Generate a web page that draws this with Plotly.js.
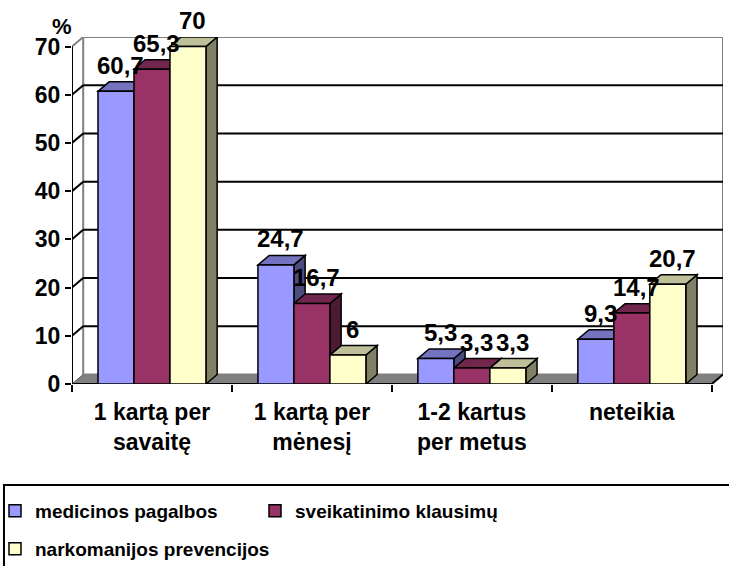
<!DOCTYPE html>
<html><head><meta charset="utf-8">
<script src="https://cdn.plot.ly/plotly-3.0.1.min.js"></script>
<style>html,body{margin:0;padding:0;background:#fff}#chart{width:729px;height:566px}</style>
</head><body><div id="chart"></div>
<script>
// ---- data ----
const categories = ['1 kartą per<br>savaitę', '1 kartą per<br>mėnesį', '1-2 kartus<br>per metus', 'neteikia'];
const seriesNames = ['medicinos pagalbos', 'sveikatinimo klausimų', 'narkomanijos prevencijos'];
const medicinos = [60.7, 24.7, 5.3, 9.3];
const sveikatinimo = [65.3, 16.7, 3.3, 14.7];
const narkomanijos = [70, 6, 3.3, 20.7];
const yTicks = [0, 10, 20, 30, 40, 50, 60, 70];

// ---- style ----
const frontCol = ['#9999FF', '#993366', '#FFFFCC'];
const topCol = ['#7373BF', '#73264D', '#BFBF99'];
const sideCol = ['#4C4C80', '#4C1A33', '#808066'];
const FONT = 'Liberation Sans, Arial, sans-serif';
const W = 0.225, DX = 0.07, DY = 1.97, YMAX = 70;
const series = [medicinos, sveikatinimo, narkomanijos];

const traces = series.map((vals, j) => ({
  type: 'bar', x: categories, y: vals, name: '<b>' + seriesNames[j] + '</b>',
  width: W, offset: -1.5 * W + j * W,
  marker: {color: frontCol[j], line: {color: '#000', width: 1.5}},
  hoverinfo: 'skip', legend: j < 2 ? 'legend' : 'legend2'
}));

const shapes = [];
const L = -0.5, R = categories.length - 0.5;
// floor
shapes.push({type: 'path', layer: 'below', xref: 'x', yref: 'y',
  path: `M${L},0 L${R},0 L${R + DX},${DY} L${L + DX},${DY} Z`,
  fillcolor: '#808080', line: {color: '#555', width: 1}});
// back wall
shapes.push({type: 'rect', layer: 'below', xref: 'x', yref: 'y',
  x0: L + DX, x1: R + DX, y0: DY, y1: YMAX + DY,
  fillcolor: 'rgba(0,0,0,0)', line: {color: '#808080', width: 2}});
// left wall top edge
shapes.push({type: 'line', layer: 'below', xref: 'x', yref: 'y',
  x0: L, y0: YMAX, x1: L + DX, y1: YMAX + DY, line: {color: '#808080', width: 2}});
// gridlines on walls
yTicks.filter(v => v > 0 && v < YMAX).forEach(v => {
  shapes.push({type: 'line', layer: 'below', xref: 'x', yref: 'y',
    x0: L + DX, x1: R + DX, y0: v + DY, y1: v + DY, line: {color: '#000', width: 2}});
  shapes.push({type: 'line', layer: 'below', xref: 'x', yref: 'y',
    x0: L, x1: L + DX, y0: v, y1: v + DY, line: {color: '#000', width: 2}});
});
// axis lines
shapes.push({type: 'line', layer: 'below', xref: 'x', yref: 'y',
  x0: L, x1: L, y0: 0, y1: YMAX, line: {color: '#000', width: 2}});
shapes.push({type: 'path', layer: 'below', xref: 'x', yref: 'y',
  path: `M${L},0 L${R},0 L${R + DX},${DY}`, line: {color: '#000', width: 2}});
// 3D faces of bars
categories.forEach((c, i) => {
  series.forEach((vals, j) => {
    const v = vals[i];
    const l = i - 1.5 * W + j * W, r = l + W;
    shapes.push({type: 'path', layer: 'below', xref: 'x', yref: 'y',
      path: `M${r},0 L${r + DX},${DY} L${r + DX},${v + DY} L${r},${v} Z`,
      fillcolor: sideCol[j], line: {color: '#000', width: 1.5}});
    shapes.push({type: 'path', layer: 'below', xref: 'x', yref: 'y',
      path: `M${l},${v} L${r},${v} L${r + DX},${v + DY} L${l + DX},${v + DY} Z`,
      fillcolor: topCol[j], line: {color: '#000', width: 1.5}});
  });
});
// legend frame
shapes.push({type: 'rect', xref: 'paper', yref: 'paper', layer: 'above',
  x0: -0.1045, x1: 1.05, y0: -0.62, y1: -0.291,
  fillcolor: 'rgba(0,0,0,0)', line: {color: '#000', width: 2}});

const annotations = [];
categories.forEach((c, i) => {
  series.forEach((vals, j) => {
    const v = vals[i];
    annotations.push({xref: 'x', yref: 'y', x: i - W + j * W, y: v,
      text: '<b>' + String(v).replace('.', ',') + '</b>', showarrow: false,
      xanchor: 'center', yanchor: 'middle', xshift: 5, yshift: 26,
      font: {family: FONT, size: 24, color: '#000'}});
  });
});
annotations.push({xref: 'paper', yref: 'paper', x: -0.0154, y: 1.03, text: '<b>%</b>',
  showarrow: false, xanchor: 'center', yanchor: 'middle',
  font: {family: FONT, size: 22, color: '#000'}});

const legendBase = {orientation: 'h', xref: 'container', yref: 'container',
  xanchor: 'left', yanchor: 'middle', bgcolor: 'rgba(0,0,0,0)', borderwidth: 0,
  indentation: -5, entrywidthmode: 'pixels', itemclick: false, itemdoubleclick: false,
  font: {family: FONT, size: 19, color: '#000'}};

const layout = {
  width: 729, height: 566,
  margin: {l: 72, r: 6, t: 37, b: 182, pad: 0},
  paper_bgcolor: '#fff', plot_bgcolor: '#fff',
  barmode: 'overlay', showlegend: true,
  font: {family: FONT, color: '#000'},
  xaxis: {type: 'category', range: [L, R + DX], showgrid: false, showline: false, zeroline: false,
    ticks: 'outside', tickson: 'boundaries', ticklen: 7, tickwidth: 2, tickcolor: '#000',
    ticktext: categories.map(c => '<b>' + c + '</b>'), tickvals: categories,
    ticklabelstandoff: 12,
    tickfont: {family: FONT, size: 23, color: '#000'}, fixedrange: true},
  yaxis: {range: [0, YMAX + DY], tickvals: yTicks, ticktext: yTicks.map(v => '<b>' + v + '</b>'),
    showgrid: false, showline: false, zeroline: false,
    ticks: 'outside', ticklen: 6, tickwidth: 2, tickcolor: '#000',
    tickfont: {family: FONT, size: 23, color: '#000'}, fixedrange: true},
  legend: Object.assign({}, legendBase, {x: 0, y: 55 / 566, entrywidth: 220}),
  legend2: Object.assign({}, legendBase, {x: 0, y: 17 / 566, entrywidth: 320}),
  shapes: shapes, annotations: annotations
};
Plotly.newPlot('chart', traces, layout, {displayModeBar: false, staticPlot: true});
</script></body></html>
